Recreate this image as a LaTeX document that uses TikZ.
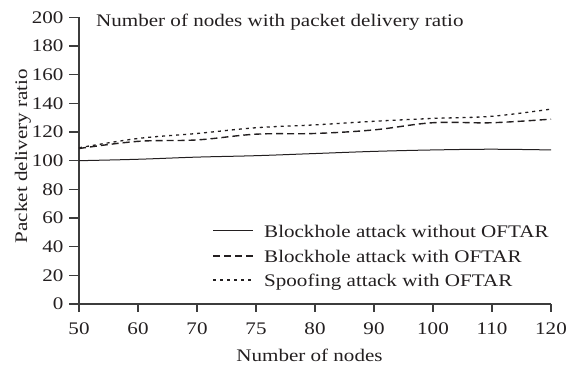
\documentclass[tikz,border=0pt]{standalone}
\usepackage{fontspec}
\setmainfont{Liberation Serif}[FakeStretch=1.19]
\definecolor{ink}{RGB}{35, 31, 32}
\definecolor{axisgray}{RGB}{60, 60, 60}

\begin{document}
\begin{tikzpicture}[
        x=1pt, y=1pt,
        font=\fontsize{17.7}{20}\selectfont,
        text=ink,
        every node/.style={inner sep=0pt},
        axis line/.style={draw=axisgray, line width=1.2pt},
        plain line/.style={draw=ink, line width=1pt},
        blackhole line/.style={draw=ink, line width=1.4pt, dash pattern=on 7pt off 4pt},
        spoof line/.style={draw=ink, line width=1.3pt, dash pattern=on 3pt off 4pt}
    ]
    \useasboundingbox (0,0) rectangle (577,366);

    \node[anchor=base west] (title) at (96,339) {Number of nodes with packet delivery ratio};
    \node[rotate=90] (ylabel) at (23,210) {Packet delivery ratio};
    \node[anchor=base] (xlabel) at (309.5,4.5) {Number of nodes};

    \begin{scope}[shift={(79,62)}, x=59pt, y=1.433pt]
        % axes
        \draw[axis line] (0,-5.6) -- (0,200);
        \draw[axis line] (0,0) -- (8,0);
        \foreach \v in {0,20,...,200} {
            \draw[axis line] (0,\v) -- ++(-10pt,0) node[anchor=east, xshift=-5pt] (ytick\v) {\v};
        }
        \foreach \lab [count=\i from 0] in {50,60,70,75,80,90,100,110,120} {
            \draw[axis line] (\i,0) -- ++(0,-8pt) node[anchor=north, yshift=-10pt] (xtick\i) {\lab};
        }

        % curves
        \draw[plain line] plot[smooth, tension=0.6] coordinates {
            (0,100) (1,101) (2,102.5) (3,103.5) (4,105) (5,106.5) (6,107.5) (7,108) (8,107.5)};
        \draw[blackhole line] plot[smooth, tension=0.6] coordinates {
            (0,108.5) (1,113.5) (2,114.5) (3,118.5) (4,119) (5,121.5) (6,126.5) (7,126.5) (8,129)};
        \draw[spoof line] plot[smooth, tension=0.6] coordinates {
            (0,109) (1,115.5) (2,119) (3,123) (4,125) (5,127.5) (6,129.5) (7,131) (8,136)};
    \end{scope}

    % legend
    \coordinate (l1a) at (213,135);
    \coordinate (l1b) at (253,135);
    \coordinate (l2a) at (213,110);
    \coordinate (l2b) at (253,110);
    \coordinate (l3a) at (213,86);
    \coordinate (l3b) at (251,86);
    \draw[plain line] (l1a) -- (l1b);
    \draw[blackhole line] (l2a) -- (l2b);
    \draw[spoof line] (l3a) -- (l3b);
    \node[anchor=base west] (leg1) at (264,128) {Blockhole attack without OFTAR};
    \node[anchor=base west] (leg2) at (264,103) {Blockhole attack with OFTAR};
    \node[anchor=base west] (leg3) at (264,79) {Spoofing attack with OFTAR};
\end{tikzpicture}
\end{document}
